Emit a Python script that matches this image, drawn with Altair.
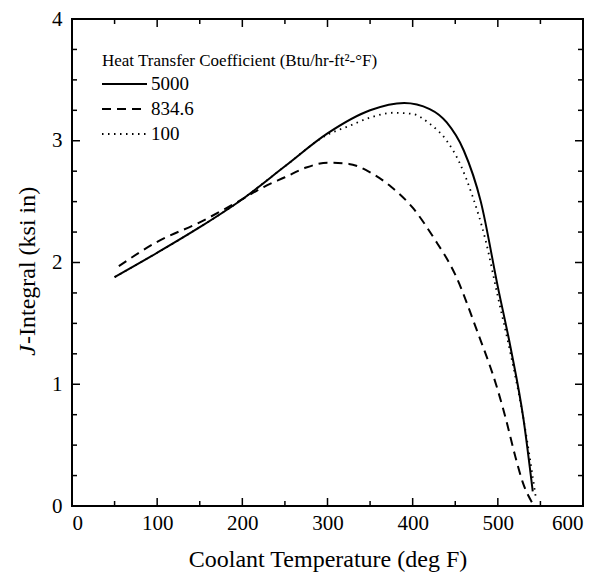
import altair as alt
import pandas as pd

# ---- data ----
solid_x = [50, 100, 150, 200, 250, 300, 350, 390, 420, 440, 460, 480, 500, 515, 530, 541]
solid_y = [1.88, 2.08, 2.29, 2.52, 2.79, 3.06, 3.25, 3.31, 3.26, 3.15, 2.92, 2.50, 1.80, 1.30, 0.72, 0.12]

dash_x = [55, 100, 150, 200, 225, 250, 275, 300, 325, 350, 375, 400, 425, 450, 475, 500, 510, 520, 530, 540]
dash_y = [1.97, 2.17, 2.33, 2.52, 2.62, 2.70, 2.78, 2.82, 2.81, 2.74, 2.62, 2.45, 2.20, 1.90, 1.45, 0.95, 0.70, 0.42, 0.18, 0.03]

dot_x = [50, 100, 150, 200, 250, 300, 325, 350, 377, 400, 420, 440, 455, 470, 485, 500, 515, 530, 545]
dot_y = [1.88, 2.08, 2.29, 2.52, 2.79, 3.05, 3.12, 3.19, 3.23, 3.22, 3.14, 3.00, 2.82, 2.55, 2.20, 1.72, 1.25, 0.72, 0.05]

series_names = ["5000", "834.6", "100"]
legend_title = "Heat Transfer Coefficient (Btu/hr-ft\u00b2-\u00b0F)"
y_title_italic = "J"
y_title_rest = "-Integral (ksi in)"
x_title = "Coolant Temperature (deg F)"

x_major = [0, 100, 200, 300, 400, 500, 600]
x_minor = [50, 150, 250, 350, 450, 550]
y_major = [0, 1, 2, 3, 4]
y_minor = [0.25, 0.5, 0.75, 1.25, 1.5, 1.75, 2.25, 2.5, 2.75, 3.25, 3.5, 3.75]

W, H = 511, 487
FONT = "Liberation Serif"

df_solid = pd.DataFrame({"x": solid_x, "y": solid_y})
df_dash = pd.DataFrame({"x": dash_x, "y": dash_y})
df_dot = pd.DataFrame({"x": dot_x, "y": dot_y})

xs = alt.Scale(domain=[0, 600], nice=False)
ys = alt.Scale(domain=[0, 4], nice=False)

xenc = alt.X("x:Q", scale=xs, axis=alt.Axis(values=x_major, format="d", ticks=False, domain=False, grid=False,
                                            labelFont=FONT, labelFontSize=21, labelColor="black",
                                            labelPadding=6, title=x_title,
                                            titleFont=FONT, titleFontSize=24, titleFontWeight="normal",
                                            titleColor="black", titlePadding=14))
yenc = alt.Y("y:Q", scale=ys, axis=alt.Axis(values=y_major, format="d", ticks=False, domain=False, grid=False,
                                            labelFont=FONT, labelFontSize=21, labelColor="black",
                                            labelPadding=10, title=None))

DASH = [9, 6]
DOT = [1.5, 4.5]
solid = alt.Chart(df_solid).mark_line(color="black", strokeWidth=2, interpolate="monotone").encode(x=xenc, y=yenc)
dash = alt.Chart(df_dash).mark_line(color="black", strokeWidth=2, strokeDash=DASH,
                                    interpolate="monotone").encode(x="x:Q", y="y:Q")
dot = alt.Chart(df_dot).mark_line(color="black", strokeWidth=1.8, strokeDash=DOT,
                                  interpolate="monotone").encode(x="x:Q", y="y:Q")

# inward ticks on all four sides
def tick_layers(vals, length, axis):
    d = pd.DataFrame({"v": vals})
    if axis == "x":
        b = alt.Chart(d).mark_rule(color="black", strokeWidth=1.5).encode(
            x=alt.X("v:Q", scale=xs), y=alt.value(H), y2=alt.value(H - length))
        t = alt.Chart(d).mark_rule(color="black", strokeWidth=1.5).encode(
            x=alt.X("v:Q", scale=xs), y=alt.value(0), y2=alt.value(length))
    else:
        b = alt.Chart(d).mark_rule(color="black", strokeWidth=1.5).encode(
            y=alt.Y("v:Q", scale=ys), x=alt.value(0), x2=alt.value(length))
        t = alt.Chart(d).mark_rule(color="black", strokeWidth=1.5).encode(
            y=alt.Y("v:Q", scale=ys), x=alt.value(W), x2=alt.value(W - length))
    return [b, t]

ticks = (tick_layers(x_major, 8, "x") + tick_layers(x_minor, 5, "x") +
         tick_layers(y_major, 8, "y") + tick_layers(y_minor, 5, "y"))

one = alt.Data(values=[{}])

# y-axis title with italic J
ty = 326
ytitle = [
    alt.Chart(one).mark_text(text=y_title_italic, font=FONT, fontSize=24, fontStyle="italic",
                             angle=270, align="right", baseline="middle", color="black").encode(
        x=alt.value(-44), y=alt.value(ty)),
    alt.Chart(one).mark_text(text=y_title_rest, font=FONT, fontSize=24,
                             angle=270, align="left", baseline="middle", color="black").encode(
        x=alt.value(-44), y=alt.value(ty - 1)),
]

# manual legend
lx0, lx1, ltx = 30, 75, 79
rows_y = [65, 90, 115]
dashes = [None, DASH, DOT]
legend = [alt.Chart(one).mark_text(text=legend_title, font=FONT, fontSize=17, align="left",
                                   baseline="middle", color="black").encode(
    x=alt.value(lx0), y=alt.value(42))]
for name, ry, sd in zip(series_names, rows_y, dashes):
    kw = {"color": "black", "strokeWidth": 2}
    if sd:
        kw["strokeDash"] = sd
    legend.append(alt.Chart(one).mark_rule(**kw).encode(
        x=alt.value(lx0), x2=alt.value(lx1), y=alt.value(ry)))
    legend.append(alt.Chart(one).mark_text(text=name, font=FONT, fontSize=19, align="left",
                                           baseline="middle", color="black").encode(
        x=alt.value(ltx), y=alt.value(ry)))

chart = alt.layer(solid, dash, dot, *ticks, *ytitle, *legend).properties(
    width=W, height=H,
    autosize=alt.AutoSizeParams(type="none"),
    padding={"left": 72, "top": 19, "right": 26, "bottom": 68},
    background="white",
).configure(font=FONT).configure_axis(labelFont=FONT, titleFont=FONT).configure_text(
    font=FONT).configure_view(stroke="black", strokeWidth=2)

chart.save("out.html", embed_options={"renderer": "svg", "actions": False})
